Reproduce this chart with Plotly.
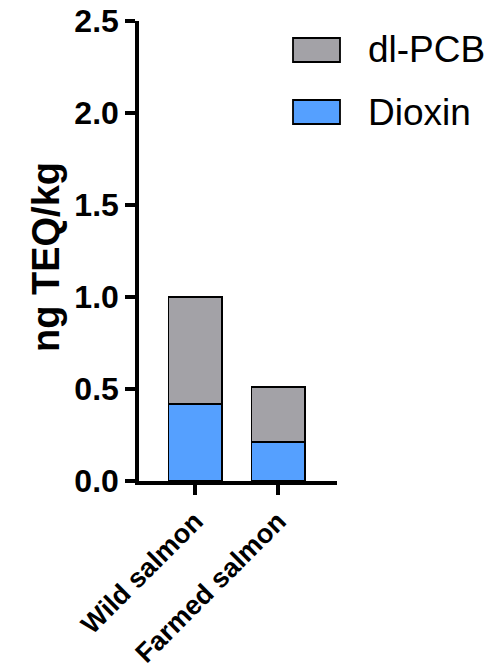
import plotly.graph_objects as go

# Data: TEQ contributions per sample type
categories = ["Wild salmon", "Farmed salmon"]
dioxin = [0.42, 0.21]
dl_pcb = [0.58, 0.30]
y_ticks = [0.0, 0.5, 1.0, 1.5, 2.0, 2.5]

GRAY = "#A3A2A7"
BLUE = "#55A0FF"
FONT = "Arial, Liberation Sans, sans-serif"

fig = go.Figure()
fig.add_trace(go.Bar(x=categories, y=dioxin, name="Dioxin", marker=dict(color=BLUE, line=dict(color="black", width=1.8)), width=0.64))
fig.add_trace(go.Bar(x=categories, y=dl_pcb, name="dl-PCB", marker=dict(color=GRAY, line=dict(color="black", width=1.8)), width=0.64))

fig.update_layout(
    barmode="stack",
    width=490, height=670,
    margin=dict(l=139, r=153, t=21, b=189, autoexpand=False),
    plot_bgcolor="white", paper_bgcolor="white",
    showlegend=False,
    font=dict(family=FONT, color="black"),
)

fig.update_xaxes(
    range=[-0.675, 1.71],
    automargin=False,
    showline=True, linecolor="black", linewidth=3.5,
    ticks="outside", ticklen=10, tickwidth=3.5, tickcolor="black",
    tickangle=-45,
    tickfont=dict(family=FONT, size=27, weight="bold"),
    showgrid=False, zeroline=False,
)
fig.update_yaxes(
    range=[0, 2.5],
    automargin=False,
    tickvals=y_ticks, tickformat=".1f",
    showline=True, linecolor="black", linewidth=3.5,
    ticks="outside", ticklen=10, tickwidth=3.5, tickcolor="black",
    tickfont=dict(family=FONT, size=32, weight="bold"),
    showgrid=False, zeroline=False,
)

# Y-axis title, placed slightly below the plot's vertical centre
fig.add_annotation(xref="paper", yref="paper", x=(46 - 139) / 198, y=(481 - 257) / 460,
                   text="ng TEQ/kg", textangle=-90, showarrow=False,
                   xanchor="center", yanchor="middle",
                   font=dict(family=FONT, size=38, weight="bold", color="black"))

# Legend drawn as boxes with labels to the right
legend_items = [("dl-PCB", GRAY), ("Dioxin", BLUE)]
for i, (label, color) in enumerate(legend_items):
    y0 = 1 - (17 + i * 62) / 460
    y1 = y0 - 24 / 460
    fig.add_shape(type="rect", xref="paper", yref="paper",
                  x0=(293 - 139) / 198, x1=(340 - 139) / 198, y0=y0, y1=y1,
                  line=dict(color="black", width=1.8), fillcolor=color)
    fig.add_annotation(xref="paper", yref="paper", x=(366 - 139) / 198, y=(y0 + y1) / 2,
                       text=label, showarrow=False, xanchor="left", yanchor="middle",
                       font=dict(family=FONT, size=37, color="black"))

fig.write_html("out.html")
